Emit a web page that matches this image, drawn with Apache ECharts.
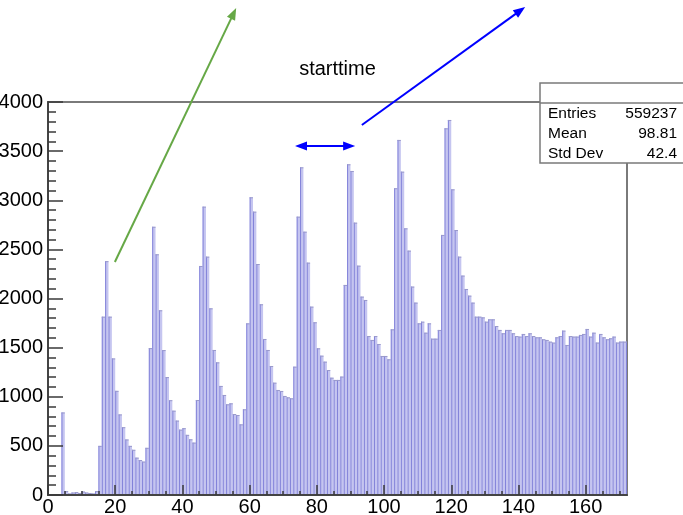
<!DOCTYPE html>
<html>
<head>
<meta charset="utf-8">
<script src="https://cdn.jsdelivr.net/npm/echarts@6/dist/echarts.min.js"></script>
<style>
  html, body { margin: 0; padding: 0; background: #fff; }
  #chart { width: 683px; height: 515px; }
</style>
</head>
<body>
<div id="chart"></div>
<script>
// Histogram of "starttime": one count per unit-wide bin, starting at 0.
const histTitle = 'starttime';
const binStart = 0;
const binWidth = 1;
const counts = [
  0, 0, 0, 0, 840, 40, 15, 25, 30, 20,
  35, 25, 20, 15, 40, 500, 1815, 2380, 1815, 1390,
  1060, 820, 690, 565, 500, 460, 380, 356, 340, 480,
  1495, 2730, 2450, 1880, 1475, 1200, 965, 858, 757, 665,
  680, 612, 567, 533, 967, 2331, 2935, 2426, 1900, 1476,
  1350, 1110, 1018, 923, 933, 824, 814, 719, 872, 1747,
  3030, 2884, 2351, 1941, 1588, 1476, 1313, 1143, 1069, 1059,
  1008, 994, 984, 1306, 2833, 3335, 2680, 2365, 1917, 1758,
  1493, 1418, 1357, 1272, 1194, 1171, 1171, 1205, 2138, 3366,
  3298, 2772, 2334, 2019, 1985, 1618, 1578, 1618, 1537, 1415,
  1415, 1381, 1686, 3122, 3614, 3291, 2714, 2487, 2121, 1958,
  1747, 1764, 1652, 1747, 1591, 1591, 1680, 2647, 3732, 3817,
  3111, 2697, 2426, 2233, 2097, 2029, 1958, 1815, 1815, 1808,
  1764, 1788, 1788, 1720, 1680, 1646, 1680, 1680, 1646, 1618,
  1612, 1639, 1618, 1646, 1618, 1605, 1605, 1585, 1578, 1561,
  1551, 1605, 1618, 1673, 1527, 1618, 1612, 1612, 1629, 1639,
  1690, 1612, 1652, 1551, 1639, 1605, 1585, 1595, 1612, 1551,
  1561, 1561, 1561
];

// Axis ranges and ticks
const xRange = [0, 172.3];
const xMajorTicks = [0, 20, 40, 60, 80, 100, 120, 140, 160];
const xMinorTicks = [];
for (let t = 0; t <= 170; t += 5) xMinorTicks.push(t);
const yRange = [0, 4000];
const yStep = 500;

// Statistics box
const statNames = ['Entries', 'Mean', 'Std Dev'];
const statValues = ['559237', '98.81', '42.4'];

// Annotation arrows, in data coordinates
const arrowFrom = [[19.9, 2371], [93.4, 3766], [73.5, 3552]];
const arrowTo = [[56.0, 4957], [142.0, 4967], [91.4, 3552]];
const arrowColors = ['#66a846', '#0000ff', '#0000ff'];
const arrowDouble = [false, false, true];

const FONT = '"Liberation Sans", Arial, Helvetica, sans-serif';
const BAR_FILL = '#c5c5f0';
const BAR_EDGE = '#7a7ad6';
const TICK = { color: '#3a3a3a', width: 1.5 };

const chart = echarts.init(document.getElementById('chart'), null, { renderer: 'canvas' });

const binData = counts.map((c, i) => [binStart + i * binWidth, c]);

chart.setOption({
  animation: false,
  backgroundColor: '#fff',
  grid: {
    left: 48, right: 56, top: 102, bottom: 20,
    outerBoundsMode: 'none', containLabel: false,
    show: true, borderColor: '#7a7a7a', borderWidth: 2, backgroundColor: 'transparent'
  },
  xAxis: [
    {
      type: 'value', min: xRange[0], max: xRange[1], position: 'bottom', z: 10,
      axisLine: { show: true, lineStyle: { color: '#444', width: 2 } },
      axisTick: { show: true, inside: true, length: 10, customValues: xMajorTicks, lineStyle: TICK },
      axisLabel: { show: true, customValues: xMajorTicks, fontSize: 20, color: '#000', fontFamily: FONT, margin: 2 },
      splitLine: { show: false }
    },
    {
      type: 'value', min: xRange[0], max: xRange[1], position: 'bottom', offset: 0, z: 10,
      axisLine: { show: false },
      axisTick: { show: true, inside: true, length: 4, customValues: xMinorTicks, lineStyle: TICK },
      axisLabel: { show: false },
      splitLine: { show: false }
    }
  ],
  yAxis: {
    type: 'value', min: yRange[0], max: yRange[1], interval: yStep, z: 10,
    axisLine: { show: true, lineStyle: { color: '#444', width: 2 } },
    axisTick: { show: true, inside: true, length: 15, lineStyle: TICK },
    minorTick: { show: true, splitNumber: 5, length: 8, lineStyle: TICK },
    axisLabel: { fontSize: 20, color: '#000', fontFamily: FONT, margin: 5, formatter: v => String(v) },
    splitLine: { show: false }
  },
  series: [{
    type: 'custom',
    xAxisIndex: 0,
    yAxisIndex: 0,
    data: binData,
    z: 2,
    renderItem: function (params, api) {
      const k = api.value(0);
      const v = api.value(1);
      const cs = params.coordSys;
      const p0 = api.coord([k, 0]);
      const p1 = api.coord([k + binWidth, v]);
      const xl = p0[0];
      const xr = Math.min(p1[0], cs.x + cs.width);
      const yb = p0[1];
      const yt = p1[1];
      if (v <= 0 || xr <= xl) return { type: 'group', children: [] };
      return {
        type: 'group',
        children: [
          { type: 'rect', shape: { x: xl, y: yt, width: xr - xl, height: yb - yt }, style: { fill: BAR_FILL } },
          { type: 'line', shape: { x1: xl + 0.5, y1: yt, x2: xl + 0.5, y2: yb }, style: { stroke: BAR_EDGE, lineWidth: 0.9 } },
          { type: 'line', shape: { x1: xl, y1: yt + 0.5, x2: xr, y2: yt + 0.5 }, style: { stroke: '#9a9acb', lineWidth: 1 } }
        ]
      };
    }
  }]
});

// Title, statistics box and arrows
function arrowShapes(a, b, color, both) {
  const dx = b[0] - a[0], dy = b[1] - a[1];
  const len = Math.hypot(dx, dy);
  const ux = dx / len, uy = dy / len;
  const nx = -uy, ny = ux;
  const L = 12, W = 4.5;
  const head = (tip, dir) => ({
    type: 'polygon', z: 120,
    shape: { points: [
      [tip[0], tip[1]],
      [tip[0] - dir * L * ux + W * nx, tip[1] - dir * L * uy + W * ny],
      [tip[0] - dir * L * ux - W * nx, tip[1] - dir * L * uy - W * ny]
    ] },
    style: { fill: color }
  });
  const s = both ? [a[0] + ux * L * 0.8, a[1] + uy * L * 0.8] : a;
  const e = [b[0] - ux * L * 0.8, b[1] - uy * L * 0.8];
  const out = [{ type: 'line', z: 120, shape: { x1: s[0], y1: s[1], x2: e[0], y2: e[1] }, style: { stroke: color, lineWidth: 2 } }];
  out.push(head(b, 1));
  if (both) out.push(head(a, -1));
  return out;
}

const elements = [];
elements.push({
  type: 'text', z: 100, x: 337.5, y: 69,
  style: { text: histTitle, font: '20px ' + FONT, fill: '#000', align: 'center', verticalAlign: 'middle' }
});
elements.push({
  type: 'rect', z: 100, shape: { x: 540, y: 83, width: 160, height: 80 },
  style: { fill: '#fff', stroke: '#7a7a7a', lineWidth: 1.5 }
});
elements.push({
  type: 'line', z: 101, shape: { x1: 540, y1: 103, x2: 700, y2: 103 },
  style: { stroke: '#7a7a7a', lineWidth: 1.5 }
});
statNames.forEach((n, i) => {
  const y = 113.5 + i * 20;
  elements.push({ type: 'text', z: 101, x: 548, y: y, style: { text: n, font: '15.5px ' + FONT, fill: '#000', align: 'left', verticalAlign: 'middle' } });
  elements.push({ type: 'text', z: 101, x: 677, y: y, style: { text: statValues[i], font: '15.5px ' + FONT, fill: '#000', align: 'right', verticalAlign: 'middle' } });
});
arrowFrom.forEach((f, i) => {
  const a = chart.convertToPixel({ gridIndex: 0 }, f);
  const b = chart.convertToPixel({ gridIndex: 0 }, arrowTo[i]);
  arrowShapes(a, b, arrowColors[i], arrowDouble[i]).forEach(el => elements.push(el));
});

chart.setOption({ graphic: { elements: elements } });
</script>
</body>
</html>
